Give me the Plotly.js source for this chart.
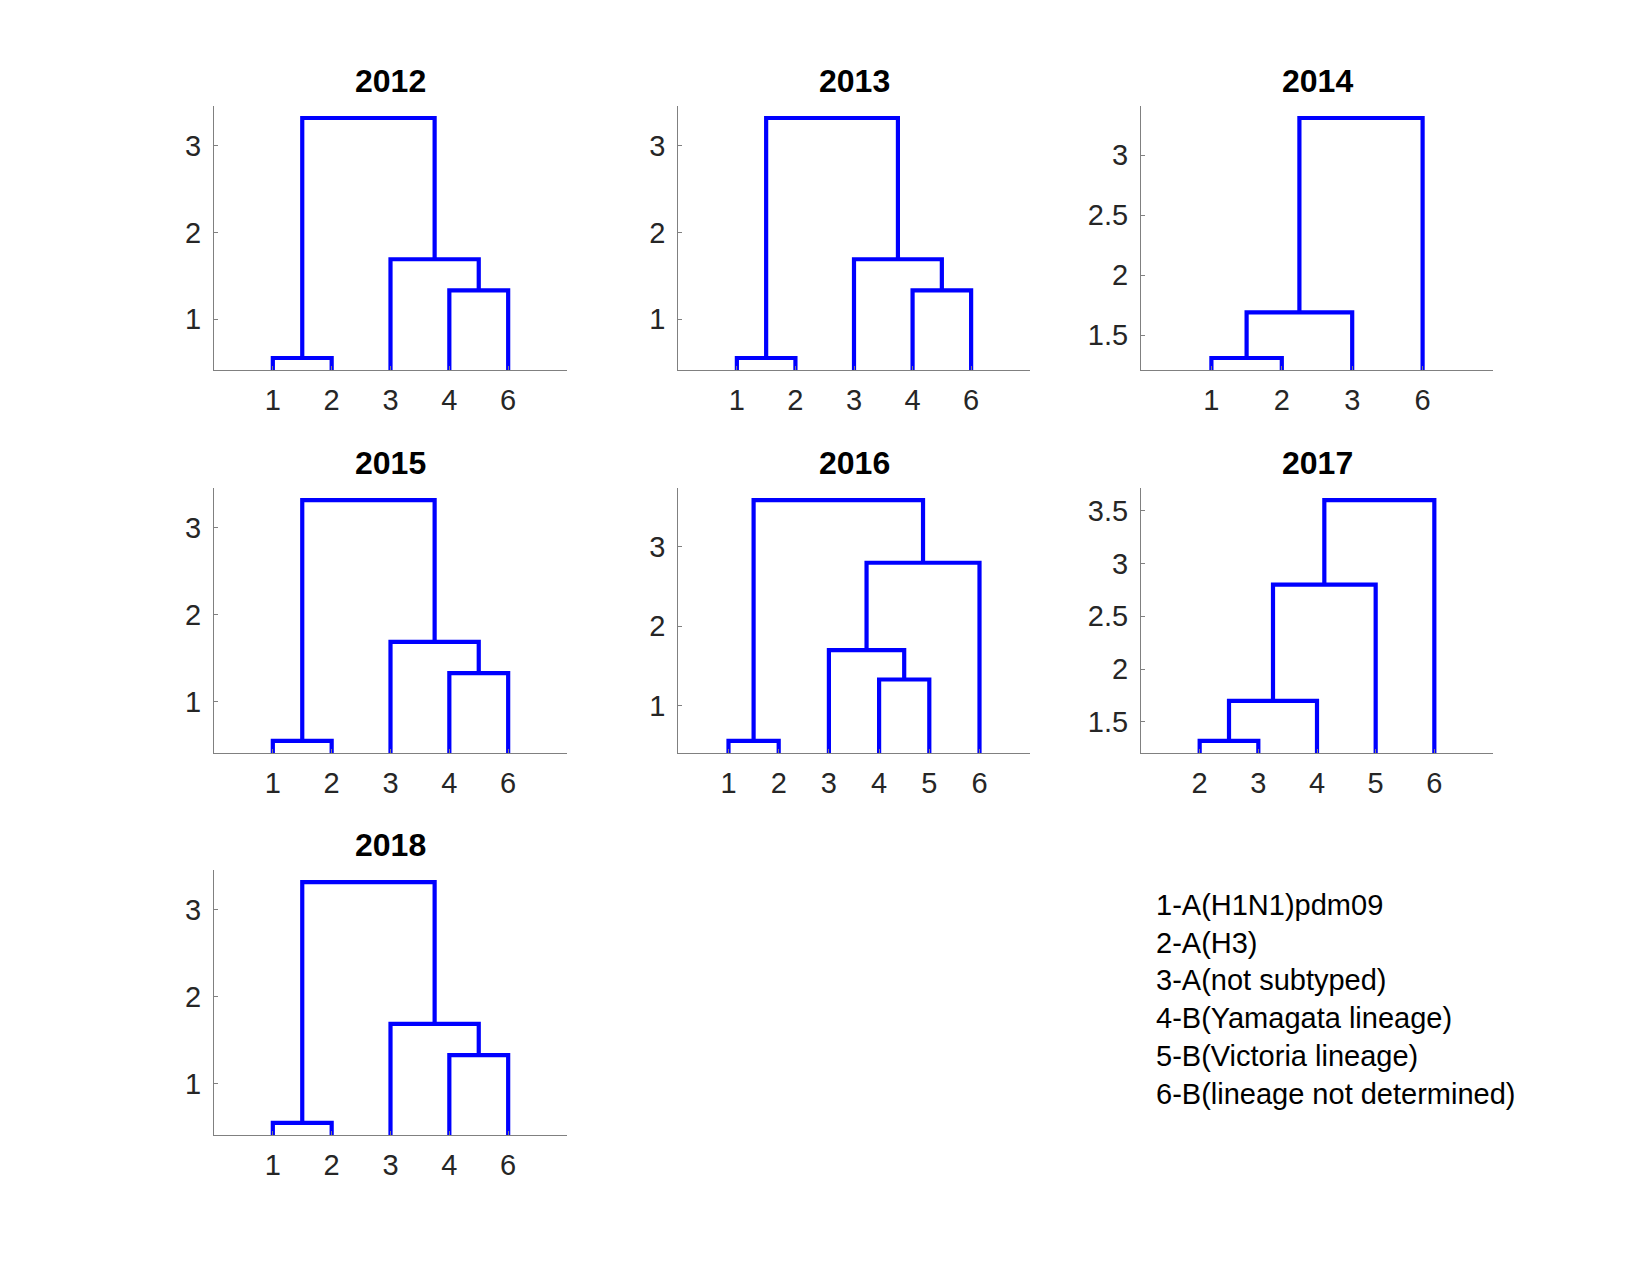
<!DOCTYPE html>
<html>
<head>
<meta charset="utf-8">
<script src="https://cdn.plot.ly/plotly-3.0.1.min.js"></script>
<style>html,body{margin:0;padding:0;background:#fff;}#chart{width:1650px;height:1275px;}</style>
</head>
<body>
<div id="chart"></div>
<script>
// ---- DATA ----
// Leaf labels in display order for each year
const leaves2012 = ["1", "2", "3", "4", "6"];
const leaves2013 = ["1", "2", "3", "4", "6"];
const leaves2014 = ["1", "2", "3", "6"];
const leaves2015 = ["1", "2", "3", "4", "6"];
const leaves2016 = ["1", "2", "3", "4", "5", "6"];
const leaves2017 = ["2", "3", "4", "5", "6"];
const leaves2018 = ["1", "2", "3", "4", "6"];

// Linkage rows: [node a, node b, height]; nodes 1..n are leaves (display order),
// n+k is the cluster formed by row k
const links2012 = [[1, 2, 0.55], [4, 5, 1.33], [3, 7, 1.69], [6, 8, 3.32]];
const links2013 = [[1, 2, 0.55], [4, 5, 1.33], [3, 7, 1.69], [6, 8, 3.32]];
const links2014 = [[1, 2, 1.31], [5, 3, 1.69], [6, 4, 3.31]];
const links2015 = [[1, 2, 0.55], [4, 5, 1.33], [3, 7, 1.69], [6, 8, 3.32]];
const links2016 = [[1, 2, 0.556], [4, 5, 1.33], [3, 8, 1.70], [9, 6, 2.80], [7, 10, 3.59]];
const links2017 = [[1, 2, 1.32], [6, 3, 1.70], [7, 4, 2.80], [8, 5, 3.60]];
const links2018 = [[1, 2, 0.55], [4, 5, 1.33], [3, 7, 1.69], [6, 8, 3.32]];

const years = ["2012", "2013", "2014", "2015", "2016", "2017", "2018"];
const yTickSteps = [1, 1, 0.5, 1, 1, 0.5, 1];

const legendLines = [
  "1-A(H1N1)pdm09",
  "2-A(H3)",
  "3-A(not subtyped)",
  "4-B(Yamagata lineage)",
  "5-B(Victoria lineage)",
  "6-B(lineage not determined)"
];

// ---- BUILD ----
const allLeaves = [leaves2012, leaves2013, leaves2014, leaves2015, leaves2016, leaves2017, leaves2018];
const allLinks = [links2012, links2013, links2014, links2015, links2016, links2017, links2018];

const W = 1650, H = 1275;
const colPx = [[214, 567], [678.3, 1029.7], [1141, 1493]];
const rowPx = [[106, 370], [488, 753], [870, 1135]];
const FONT = "Liberation Sans, Arial, Helvetica, sans-serif";
const BLUE = "#0000ff";

function buildDendro(leaves, links) {
  const n = leaves.length;
  const pos = {}, ht = {};
  for (let i = 1; i <= n; i++) { pos[i] = i; ht[i] = 0; }
  const xs = [], ys = [];
  links.forEach((l, k) => {
    const a = l[0], b = l[1], h = l[2];
    xs.push(pos[a], pos[a], pos[b], pos[b], null);
    ys.push(ht[a], h, h, ht[b], null);
    const id = n + k + 1;
    pos[id] = (pos[a] + pos[b]) / 2;
    ht[id] = h;
  });
  return {xs, ys};
}

const traces = [];
const layout = {
  width: W, height: H,
  margin: {l: 0, r: 0, t: 0, b: 0},
  paper_bgcolor: "#ffffff",
  plot_bgcolor: "#ffffff",
  showlegend: false,
  font: {family: FONT, color: "#262626"},
  annotations: []
};

years.forEach((yr, i) => {
  const leaves = allLeaves[i], links = allLinks[i];
  const row = Math.floor(i / 3), col = i % 3;
  const d = buildDendro(leaves, links);
  const suffix = i === 0 ? "" : String(i + 1);
  traces.push({
    type: "scatter", mode: "lines",
    x: d.xs, y: d.ys,
    xaxis: "x" + suffix, yaxis: "y" + suffix,
    line: {color: BLUE, width: 4.2, shape: "linear"},
    hoverinfo: "skip",
    connectgaps: false
  });
  const heights = links.map(l => l[2]);
  const hmin = Math.min(...heights), hmax = Math.max(...heights);
  const dlt = hmax - hmin;
  const xd = [colPx[col][0] / W, colPx[col][1] / W];
  const yd = [1 - rowPx[row][1] / H, 1 - rowPx[row][0] / H];
  layout["xaxis" + suffix] = {
    domain: xd,
    anchor: "y" + suffix,
    range: [0, leaves.length + 1],
    tickmode: "array",
    tickvals: leaves.map((_, j) => j + 1),
    ticktext: leaves,
    ticks: "inside", ticklen: 4, tickcolor: "#808080",
    showline: true, linecolor: "#808080", linewidth: 1,
    showgrid: false, zeroline: false,
    tickfont: {family: FONT, size: 29, color: "#262626"},
    ticklabelstandoff: 4,
    fixedrange: true
  };
  layout["yaxis" + suffix] = {
    domain: yd,
    anchor: "x" + suffix,
    range: [hmin - 0.05 * dlt, hmax + 0.05 * dlt],
    tick0: 0, dtick: yTickSteps[i], tickmode: "linear",
    ticks: "inside", ticklen: 4, tickcolor: "#808080",
    showline: true, linecolor: "#808080", linewidth: 1,
    showgrid: false, zeroline: false,
    tickfont: {family: FONT, size: 29, color: "#262626"},
    ticklabelstandoff: 6,
    fixedrange: true
  };
  layout.annotations.push({
    xref: "paper", yref: "paper",
    x: (xd[0] + xd[1]) / 2,
    y: 1 - (rowPx[row][0] - 25) / H,
    xanchor: "center", yanchor: "middle",
    text: "<b>" + yr + "</b>",
    showarrow: false,
    font: {family: FONT, size: 32, color: "#000000"}
  });
});

legendLines.forEach((t, j) => {
  layout.annotations.push({
    xref: "paper", yref: "paper",
    x: 1154 / W,
    y: 1 - (905 + j * 37.7) / H,
    xanchor: "left", yanchor: "middle",
    text: t, showarrow: false,
    font: {family: FONT, size: 29, color: "#000000"}
  });
});

Plotly.newPlot("chart", traces, layout, {staticPlot: true, displayModeBar: false});
</script>
</body>
</html>
